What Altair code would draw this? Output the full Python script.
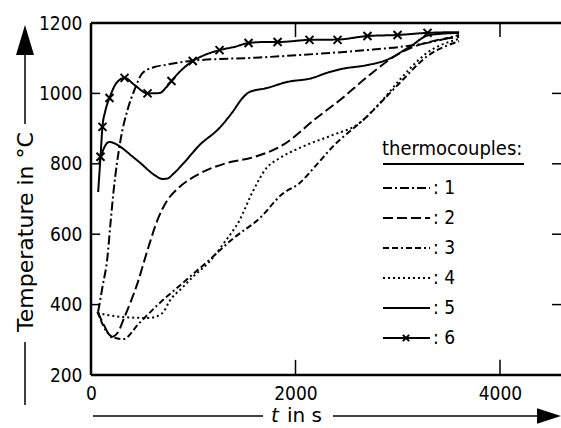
import altair as alt
import pandas as pd

# ---------------- data ----------------
ids = ["1", "2", "3", "4", "5", "6"]

# thermocouple 1 (dash-dot, fast rise to ~1100)
t1 = [70, 112, 161, 191, 220, 289, 357, 425, 504, 621, 729, 995, 1648, 2039, 2694, 3017, 3311, 3600]
T1 = [380, 450, 535, 632, 720, 868, 953, 1010, 1058, 1075, 1081, 1093, 1102, 1109, 1123, 1132, 1145, 1166]

# thermocouple 2 (dashed)
t2 = [64, 130, 200, 260, 328, 455, 553, 650, 748, 850, 1061, 1325, 1580, 1874, 2205, 2460, 2694, 3017, 3360, 3600]
T2 = [380, 340, 308, 320, 365, 461, 555, 640, 697, 730, 772, 802, 818, 853, 930, 987, 1045, 1114, 1150, 1160]

# thermocouple 3 (dash-dash-dot, slow linear rise)
t3 = [64, 120, 200, 313, 474, 670, 900, 1130, 1400, 1648, 1874, 2039, 2205, 2362, 2694, 3017, 3281, 3600]
T3 = [380, 340, 310, 302, 348, 404, 462, 520, 590, 645, 715, 745, 797, 848, 933, 1029, 1104, 1148]

# thermocouple 4 (dotted)
t4 = [64, 300, 570, 699, 768, 900, 1000, 1159, 1300, 1453, 1580, 1716, 1844, 2039, 2366, 2597, 2851, 3017, 3281, 3600]
T4 = [376, 365, 362, 376, 410, 450, 480, 522, 575, 640, 720, 788, 816, 845, 882, 910, 981, 1038, 1114, 1155]

# thermocouple 5 (solid)
t5 = [80, 120, 181, 250, 289, 400, 484, 621, 700, 748, 800, 900, 1061, 1257, 1384, 1482, 1550, 1716, 1912,
      2167, 2303, 2460, 2694, 2890, 3115, 3311, 3600]
T5 = [800, 840, 862, 855, 848, 822, 802, 768, 757, 758, 770, 800, 853, 902, 947, 987, 1004, 1015, 1032,
      1044, 1058, 1070, 1080, 1095, 1132, 1166, 1172]

# thermocouple 6 (solid with crosses)
t6 = [70, 93, 112, 140, 181, 250, 328, 425, 553, 670, 738, 787, 866, 995, 1120, 1257, 1400, 1541, 1700, 1825,
      2137, 2411, 2704, 2998, 3291, 3600]
T6 = [720, 820, 905, 950, 987, 1030, 1044, 1024, 1000, 1001, 1018, 1035, 1061, 1092, 1110, 1123, 1132, 1143,
      1146, 1146, 1152, 1153, 1163, 1166, 1172, 1174]
t6_marks = [93, 112, 181, 328, 553, 787, 995, 1257, 1541, 1825, 2137, 2411, 2704, 2998, 3291]
T6_marks = [820, 905, 987, 1044, 1000, 1035, 1092, 1123, 1143, 1146, 1152, 1152, 1163, 1166, 1172]

y_ticks = [200, 400, 600, 800, 1000, 1200]
x_ticks = [0, 2000, 4000]

# ---------------- layout constants ----------------
OX, OY = 91, 23          # plot origin in page pixels
W, H = 470, 352          # plot size (right edge at the window edge)
PX_PER_S = 204.5 / 2000
XMAX = W / PX_PER_S      # seconds at right edge
COND = "DejaVu Sans Condensed, DejaVu Sans, sans-serif"
WIDE = "DejaVu Sans, sans-serif"

dashes = {
    "1": [9, 3, 2, 3],
    "2": [10, 4],
    "3": [6, 3, 6, 3, 2, 3],
    "4": [2, 3],
    "5": [1, 0],
    "6": [1, 0],
}

rows = []
for cid, ts, Ts in [("1", t1, T1), ("2", t2, T2), ("3", t3, T3), ("4", t4, T4), ("5", t5, T5), ("6", t6, T6)]:
    for i, (a, b) in enumerate(zip(ts, Ts)):
        rows.append({"id": cid, "t": a, "T": b, "i": i})
df = pd.DataFrame(rows)
df_marks = pd.DataFrame({"t": t6_marks, "T": T6_marks})

xscale = alt.Scale(domain=[0, XMAX], nice=False, zero=False)
yscale = alt.Scale(domain=[200, 1200], nice=False, zero=False)
dash_scale = alt.Scale(domain=ids, range=[dashes[k] for k in ids])

xaxis = alt.Axis(values=x_ticks, ticks=False, domain=False, grid=False, title=None,
                 labelFont=COND, labelFontSize=19, labelColor="black", labelPadding=9,
                 labelFlush=False, labelOverlap=False, format="d")
yaxis = alt.Axis(values=y_ticks, ticks=False, domain=False, grid=False, title=None,
                 labelFont=COND, labelFontSize=19, labelColor="black", labelPadding=9,
                 labelOverlap=False, format="d")

lines = alt.Chart(df).mark_line(interpolate="monotone", strokeWidth=2, color="black").encode(
    x=alt.X("t:Q", scale=xscale, axis=xaxis),
    y=alt.Y("T:Q", scale=yscale, axis=yaxis),
    strokeDash=alt.StrokeDash("id:N", scale=dash_scale, legend=None),
    detail="id:N",
    order="i:Q",
)

CROSS = "M-1,-1L1,1M-1,1L1,-1"
marks6 = alt.Chart(df_marks).mark_point(shape=CROSS, size=64, filled=False, strokeWidth=2,
                                        color="black", opacity=1).encode(
    x=alt.X("t:Q", scale=xscale), y=alt.Y("T:Q", scale=yscale))

# frame (left, top, bottom) and inward ticks, in data coordinates
frame = alt.Chart(pd.DataFrame([
    {"x": 0, "x2": 0, "y": 200, "y2": 1200},
    {"x": 0, "x2": XMAX, "y": 1200, "y2": 1200},
    {"x": 0, "x2": XMAX, "y": 200, "y2": 200},
])).mark_rule(color="black", strokeWidth=2.5).encode(
    x=alt.X("x:Q", scale=xscale), x2="x2:Q", y=alt.Y("y:Q", scale=yscale), y2="y2:Q")

tick_rows = []
for v in [400, 600, 800, 1000]:
    tick_rows.append({"x": 0, "x2": 90, "y": v, "y2": v})
    tick_rows.append({"x": XMAX - 88, "x2": XMAX, "y": v, "y2": v})
for v in [2000, 4000]:
    tick_rows.append({"x": v, "x2": v, "y": 1200, "y2": 1160})
    tick_rows.append({"x": v, "x2": v, "y": 200, "y2": 243})
ticks = alt.Chart(pd.DataFrame(tick_rows)).mark_rule(color="black", strokeWidth=1.5).encode(
    x=alt.X("x:Q", scale=xscale), x2="x2:Q", y=alt.Y("y:Q", scale=yscale), y2="y2:Q")

dummy = pd.DataFrame({"a": [0]})


def px(ax):
    return ax - OX


def py(ay):
    return ay - OY


def text(s, ax, ay, size, font=COND, align="left", baseline="middle", angle=0, style="normal"):
    kw = dict(text=s, fontSize=size, font=font, align=align, baseline=baseline, color="black",
              fontStyle=style)
    if angle:
        kw["angle"] = angle
    return alt.Chart(dummy).mark_text(**kw).encode(x=alt.value(px(ax)), y=alt.value(py(ay)))


def hrule(ax1, ax2, ay, w=1.5, dash=None):
    enc = dict(x=alt.value(px(ax1)), x2=alt.value(px(ax2)), y=alt.value(py(ay)))
    if dash is not None:
        enc["strokeDash"] = alt.value(dash)
    return alt.Chart(dummy).mark_rule(color="black", strokeWidth=w).encode(**enc)


def vrule(ax, ay1, ay2, w=1.5):
    return alt.Chart(dummy).mark_rule(color="black", strokeWidth=w).encode(
        x=alt.value(px(ax)), y=alt.value(py(ay1)), y2=alt.value(py(ay2)))


def tri(ax, ay, path, size):
    return alt.Chart(dummy).mark_point(shape=path, size=size, filled=True, color="black",
                                       opacity=1, strokeWidth=0).encode(
        x=alt.value(px(ax)), y=alt.value(py(ay)))


layers = [frame, ticks, lines, marks6]

# legend
layers.append(text("thermocouples:", 382, 155, 20, baseline="alphabetic"))
layers.append(hrule(383, 524, 164, w=2))
leg_y = [188, 218, 248, 278, 308, 338]
for k, yy in zip(ids, leg_y):
    layers.append(hrule(383, 430, yy, w=2, dash=dashes[k]))
    layers.append(text(": " + k, 433, yy, 19))
layers.append(alt.Chart(dummy).mark_point(shape=CROSS, size=40, filled=False, strokeWidth=2,
                                          color="black", opacity=1).encode(
    x=alt.value(px(406)), y=alt.value(py(338))))

# y title with arrow
layers.append(text("Temperature in °C", 26, 232, 22, font=WIDE, align="center", angle=270))
layers.append(vrule(25, 52, 124))
layers.append(vrule(25, 342, 405))
layers.append(tri(25, 40, "M0,-1L0.6,1L-0.6,1Z", 900))

# x title with arrow
TY = 416
layers.append(hrule(93, 263, TY))
layers.append(text("t", 275, TY, 20, font=WIDE, align="center", style="italic"))
layers.append(text("in s", 287, TY, 20, font=WIDE))
layers.append(hrule(333, 540, TY))
layers.append(tri(549, TY, "M1,0L-1,-0.65L-1,0.65Z", 576))

chart = alt.layer(*layers).properties(
    width=W, height=H,
    padding={"left": OX, "top": OY, "right": 0, "bottom": 428 - OY - H},
    autosize=alt.AutoSizeParams(type="none"),
    background="white",
).configure_view(stroke=None)

chart.save("out.html", embed_options={"renderer": "svg", "actions": False})
